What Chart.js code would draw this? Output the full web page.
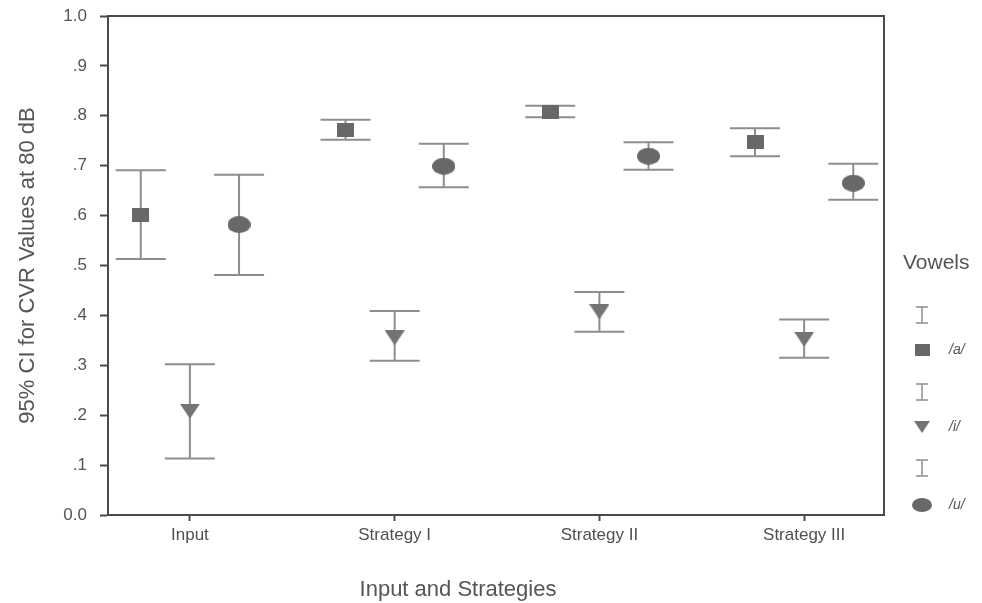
<!DOCTYPE html>
<html>
<head>
<meta charset="utf-8">
<script src="https://cdn.jsdelivr.net/npm/chart.js@4.4.1/dist/chart.umd.min.js"></script>
<style>
  html, body { margin: 0; padding: 0; background: #ffffff; }
  #wrap { width: 982px; height: 603px; }
</style>
</head>
<body>
<div id="wrap"><canvas id="c" width="982" height="603"></canvas></div>
<script>
// Groups along the x axis
const categories = ['Input', 'Strategy I', 'Strategy II', 'Strategy III'];

// Vowel series: mean CVR and the 95% CI limits per group
const seriesNames = ['/a/', '/i/', '/u/'];
const aMean = [0.602, 0.772, 0.807, 0.747];
const aLow  = [0.513, 0.752, 0.797, 0.719];
const aHigh = [0.691, 0.792, 0.820, 0.775];

const iMean = [0.208, 0.355, 0.407, 0.352];
const iLow  = [0.113, 0.309, 0.367, 0.315];
const iHigh = [0.302, 0.409, 0.447, 0.392];

const uMean = [0.582, 0.699, 0.719, 0.665];
const uLow  = [0.481, 0.657, 0.692, 0.632];
const uHigh = [0.682, 0.744, 0.747, 0.704];

// Y tick values
const yTickValues = [0, 0.1, 0.2, 0.3, 0.4, 0.5, 0.6, 0.7, 0.8, 0.9, 1.0];

const SANS = '"Liberation Sans", Arial, sans-serif';
const MARK = '#686868';
const BAR = '#8e8e8e';
const AXIS = '#4a4a4a';

// marker sprites (square, down-triangle, flattened ellipse)
function sprite(kind, w, h, color) {
  const c = document.createElement('canvas');
  c.width = w; c.height = h;
  const g = c.getContext('2d');
  g.fillStyle = color;
  if (kind === 'rect') {
    g.fillRect(0, 0, w, h);
  } else if (kind === 'tri') {
    g.beginPath(); g.moveTo(0, 0); g.lineTo(w, 0); g.lineTo(w / 2, h); g.closePath(); g.fill();
  } else {
    g.beginPath(); g.ellipse(w / 2, h / 2, w / 2, h / 2, 0, 0, Math.PI * 2); g.fill();
  }
  return c;
}
const markers = [
  sprite('rect', 17, 14, MARK),
  sprite('tri', 20, 15, '#747474'),
  sprite('ellipse', 23, 17, MARK)
];
const legendMarkers = [
  sprite('rect', 15, 12, MARK),
  sprite('tri', 16, 12, '#747474'),
  sprite('ellipse', 20, 14, MARK)
];

const groupOffset = [-0.24, 0, 0.24];
const means = [aMean, iMean, uMean];
const lows = [aLow, iLow, uLow];
const highs = [aHigh, iHigh, uHigh];

const datasets = seriesNames.map((name, s) => ({
  label: name,
  data: categories.map((c, k) => ({ x: k + groupOffset[s], y: means[s][k], low: lows[s][k], high: highs[s][k] })),
  pointStyle: markers[s],
  showLine: false
}));

// vertical CI whiskers with caps, drawn under the markers
const errorBars = {
  id: 'errorBars',
  beforeDatasetsDraw(chart) {
    const { ctx, scales: { x, y } } = chart;
    const cap = 25;
    ctx.save();
    ctx.strokeStyle = BAR;
    ctx.lineWidth = 2;
    chart.data.datasets.forEach(ds => {
      ds.data.forEach(p => {
        const px = x.getPixelForValue(p.x);
        const yl = y.getPixelForValue(p.low);
        const yh = y.getPixelForValue(p.high);
        ctx.beginPath();
        ctx.moveTo(px, yh); ctx.lineTo(px, yl);
        ctx.moveTo(px - cap, yh); ctx.lineTo(px + cap, yh);
        ctx.moveTo(px - cap, yl); ctx.lineTo(px + cap, yl);
        ctx.stroke();
      });
    });
    ctx.restore();
  }
};

// box frame, x-axis title and the vowel key on the right
const decorations = {
  id: 'decorations',
  afterDraw(chart) {
    const { ctx, chartArea: a } = chart;
    ctx.save();
    ctx.strokeStyle = AXIS;
    ctx.lineWidth = 2;
    ctx.beginPath();
    ctx.moveTo(a.left, a.top); ctx.lineTo(a.right, a.top); ctx.lineTo(a.right, a.bottom);
    ctx.stroke();

    ctx.fillStyle = '#555555';
    ctx.font = '22px ' + SANS;
    ctx.textAlign = 'center';
    ctx.textBaseline = 'middle';
    ctx.fillText('Input and Strategies', 458, 590);

    // key
    ctx.textAlign = 'left';
    ctx.font = '21px ' + SANS;
    ctx.fillText('Vowels', 903, 263);
    const rows = [[315, 350], [392, 427], [468, 505]];
    const lx = 922;
    ctx.strokeStyle = BAR;
    ctx.lineWidth = 1.5;
    ctx.font = 'italic 14px ' + SANS;
    seriesNames.forEach((name, s) => {
      const [yb, ym] = rows[s];
      ctx.beginPath();
      ctx.moveTo(lx, yb - 8); ctx.lineTo(lx, yb + 8);
      ctx.moveTo(lx - 6, yb - 8); ctx.lineTo(lx + 6, yb - 8);
      ctx.moveTo(lx - 6, yb + 8); ctx.lineTo(lx + 6, yb + 8);
      ctx.stroke();
      const m = legendMarkers[s];
      ctx.drawImage(m, lx - m.width / 2, ym - m.height / 2);
      ctx.fillText(name, 949, ym);
    });
    ctx.restore();
  }
};

new Chart(document.getElementById('c'), {
  type: 'scatter',
  data: { datasets },
  plugins: [errorBars, decorations],
  options: {
    responsive: false,
    animation: false,
    layout: { padding: { top: 16, right: 98, left: 0, bottom: 0 } },
    plugins: { legend: { display: false }, tooltip: { enabled: false } },
    elements: { point: { radius: 8, hoverRadius: 8 } },
    scales: {
      x: {
        type: 'linear',
        min: -0.4,
        max: 3.39,
        afterBuildTicks: sc => { sc.ticks = categories.map((c, k) => ({ value: k })); },
        afterFit: sc => { sc.height = 88; sc.paddingLeft = 0; sc.paddingRight = 0; },
        ticks: {
          autoSkip: false,
          maxRotation: 0,
          padding: 4,
          color: '#505050',
          font: { family: SANS, size: 17 },
          callback: v => categories[v]
        },
        grid: { drawOnChartArea: false, tickLength: 6, color: AXIS, tickWidth: 2 },
        border: { color: AXIS, width: 2 }
      },
      y: {
        min: 0,
        max: 1,
        afterBuildTicks: sc => { sc.ticks = yTickValues.map(v => ({ value: v })); },
        afterFit: sc => { sc.width = 108; sc.paddingTop = 0; sc.paddingBottom = 0; },
        ticks: {
          padding: 13,
          color: '#555555',
          font: { family: SANS, size: 17 },
          callback: v => (v === 0 || v === 1) ? v.toFixed(1) : v.toFixed(1).replace(/^0/, '')
        },
        grid: { drawOnChartArea: false, tickLength: 8, color: AXIS, tickWidth: 2 },
        border: { color: AXIS, width: 2 },
        title: {
          display: true,
          text: '95% CI for CVR Values at 80 dB',
          color: '#555555',
          font: { family: SANS, size: 22 },
          padding: { top: 15, bottom: 0 }
        }
      }
    }
  }
});
</script>
</body>
</html>
